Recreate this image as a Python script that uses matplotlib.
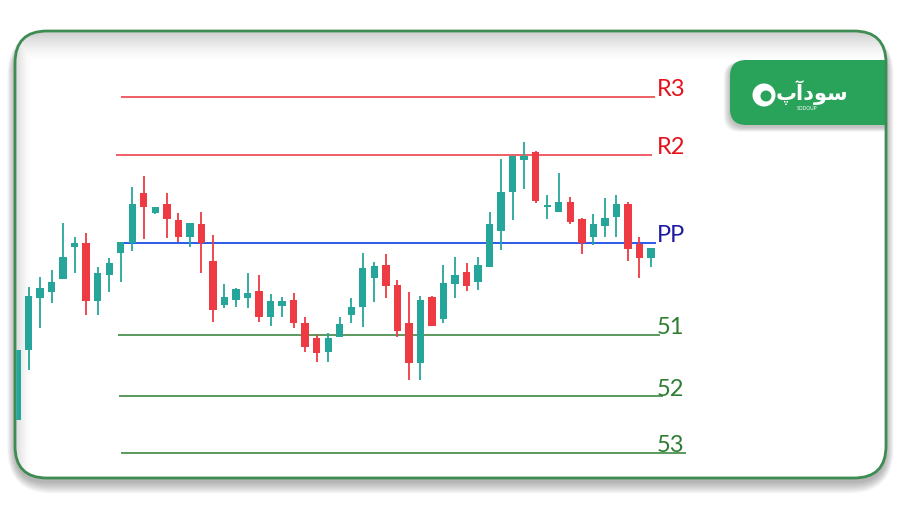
import numpy as np
import matplotlib
matplotlib.use("Agg")
import matplotlib.pyplot as plt
from matplotlib.patches import FancyBboxPatch, Circle

# candle data (open, high, low, close)
opens = [80, 150, 202, 208, 221, 253, 257, 199, 225, 247, 257, 307, 287, 296,
         280, 263, 276, 239, 195, 200, 202, 209, 183, 194, 200, 177, 162, 148,
         163, 185, 193, 222, 235, 215, 177, 137, 203, 181, 216, 228, 218, 233,
         269, 308, 340, 348, 293, 288, 298, 281, 263, 274, 283, 296, 256, 242]
highs = [150, 213, 223, 230, 277, 263, 267, 233, 242, 258, 313, 324, 293, 307,
         287, 277, 288, 265, 216, 212, 227, 225, 206, 203, 207, 183, 165, 167,
         183, 202, 247, 238, 246, 220, 208, 204, 204, 235, 243, 237, 243, 288,
         341, 344, 358, 349, 305, 327, 303, 282, 286, 302, 305, 298, 263, 252]
lows = [80, 130, 172, 197, 221, 227, 185, 185, 208, 218, 249, 261, 286, 262,
        258, 253, 227, 178, 192, 193, 192, 178, 174, 183, 172, 148, 138, 138,
        163, 177, 173, 198, 202, 163, 120, 120, 174, 177, 202, 209, 210, 233,
        250, 280, 311, 297, 281, 288, 276, 246, 255, 263, 263, 239, 222, 233]
closes = [150, 204, 212, 218, 243, 257, 199, 227, 237, 258, 296, 293, 293, 281,
          263, 277, 257, 190, 203, 211, 207, 183, 199, 199, 177, 153, 147, 162,
          176, 193, 232, 234, 214, 169, 137, 200, 174, 217, 225, 214, 235, 276,
          308, 344, 344, 299, 295, 298, 278, 257, 276, 282, 296, 251, 242, 252]

# pivot levels
level_names = ["R3", "R2", "PP", "51", "52", "53"]
level_values = [403, 345, 257, 165, 104, 47]

logo_fa = "\ufb56\ufe81\ufea9\ufeee\ufeb3"  # سودآپ in visual order
logo_en = "SODOUP"

UP = "#26a69a"
DOWN = "#ee3a42"
line_colors = ["#e8343a", "#e8343a", "#2a5bea", "#2e7d32", "#2e7d32", "#2e7d32"]
text_colors = ["#e8101a", "#e8101a", "#1c1aa6", "#2e7d32", "#2e7d32", "#2e7d32"]
line_spans = [(9.0, 55.35), (8.6, 55.1), (8.95, 55.45), (8.75, 55.8), (8.85, 56.05), (9.0, 58.0)]

plt.rcParams['font.family'] = ['Lato', 'DejaVu Sans']

fig = plt.figure(figsize=(9, 5.08), dpi=100)
fig.patch.set_facecolor("white")

# background layer in pixel units
bg = fig.add_axes([0, 0, 1, 1])
bg.set_xlim(0, 900)
bg.set_ylim(508, 0)
bg.axis("off")

fx0, fy0, fx1, fy1, rad = 15, 31, 886, 478, 32

# outer soft shadow
for d in range(1, 14):
    sh = FancyBboxPatch((fx0 - d * 0.6, fy0 - d * 0.3 + 4), fx1 - fx0 + d * 1.2, fy1 - fy0 + d * 1.2,
                        boxstyle="round,pad=0,rounding_size=%f" % (rad + d),
                        facecolor="#000000", edgecolor="none", alpha=0.022, zorder=1)
    bg.add_patch(sh)

frame = FancyBboxPatch((fx0, fy0), fx1 - fx0, fy1 - fy0,
                       boxstyle="round,pad=0,rounding_size=%d" % rad,
                       facecolor="white", edgecolor="none", zorder=2)
bg.add_patch(frame)

# inner shading at top and left edge
yy, xx = np.mgrid[0:508, 0:900]
top = np.clip(1 - (yy - 33) / 28.0, 0, 1) ** 1.5
left = np.clip(1 - (xx - 16) / 16.0, 0, 1) ** 1.6
shade = np.maximum(top * 0.32, left * 0.24)
img = np.zeros((508, 900, 4))
img[..., :3] = 0.45
img[..., 3] = shade
im = bg.imshow(img, extent=(0, 900, 508, 0), zorder=3, interpolation="bilinear")
im.set_clip_path(frame)

# logo tab
for d in range(1, 9):
    s = FancyBboxPatch((730 - d * 0.8, 60 + 2), 200, 65 + d * 0.6,
                       boxstyle="round,pad=0,rounding_size=16",
                       facecolor="#000000", edgecolor="none", alpha=0.03, zorder=4)
    bg.add_patch(s)
    s.set_clip_path(frame)
tab = FancyBboxPatch((730, 60), 200, 65, boxstyle="round,pad=0,rounding_size=16",
                     facecolor="#2aa35a", edgecolor="none", zorder=5)
bg.add_patch(tab)
tab.set_clip_path(frame)
bg.add_patch(Circle((764, 95), 11.5, facecolor="white", edgecolor="none", zorder=6))
bg.add_patch(Circle((766, 96), 5.5, facecolor="#2aa35a", edgecolor="none", zorder=7))
bg.text(812, 93, logo_fa, color="white", fontsize=15, fontweight="bold",
        ha="center", va="center", family=["DejaVu Sans"], zorder=7)
bg.text(807, 108, logo_en, color="white", fontsize=3.5, ha="center", va="center", zorder=7)

border = FancyBboxPatch((fx0, fy0), fx1 - fx0, fy1 - fy0,
                        boxstyle="round,pad=0,rounding_size=%d" % rad,
                        facecolor="none", edgecolor="#3d8c52", linewidth=2.0, zorder=8)
bg.add_patch(border)

# candle chart layer
ax = fig.add_axes([0, 0, 1, 1])
ax.patch.set_alpha(0)
step = 11.527
ax.set_xlim(-17 / step, (900 - 17) / step)
ax.set_ylim(-8, 500)
ax.axis("off")

idx = np.arange(len(opens))
for i in idx:
    o, h, l, c = opens[i], highs[i], lows[i], closes[i]
    col = UP if c >= o else DOWN
    wk = ax.vlines(i, l, h, color=col, linewidth=1.3, zorder=10)
    body = max(abs(c - o), 1.5)
    bars = ax.bar(i, body, bottom=min(o, c), width=0.64, color=col, linewidth=0, zorder=11)
    if i == 0:
        # first candle sits under the frame edge
        clip = FancyBboxPatch((fx0 + 1.5, fy0), fx1 - fx0, fy1 - fy0,
                              boxstyle="round,pad=0,rounding_size=%d" % rad,
                              transform=bg.transData, facecolor="none", edgecolor="none")
        wk.set_clip_path(clip)
        for b in bars:
            b.set_clip_path(clip)

for name, val, lc, tc, (xa, xb) in zip(level_names, level_values, line_colors, text_colors, line_spans):
    lw = 1.4 if name == "PP" else 1.1
    ax.hlines(val, xa, xb, color=lc, linewidth=lw, zorder=9)
    ax.text(55.5, val + 0.5, name, color=tc, fontsize=17, ha="left", va="baseline", zorder=12)

fig.savefig("out.png", dpi=100)
